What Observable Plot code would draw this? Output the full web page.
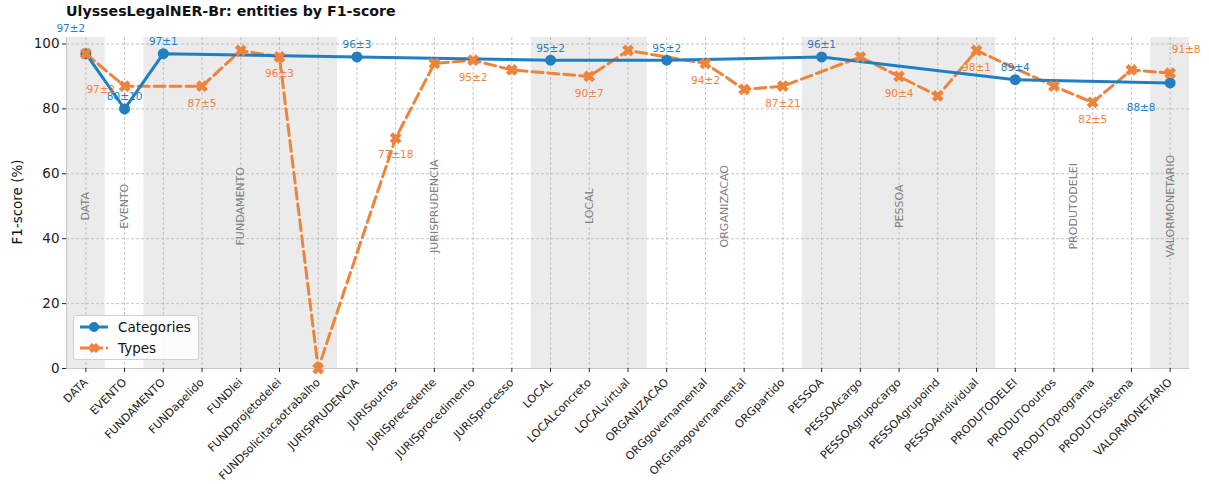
<!DOCTYPE html>
<html>
<head>
<meta charset="utf-8">
<script src="https://cdn.jsdelivr.net/npm/d3@7"></script>
<script src="https://cdn.jsdelivr.net/npm/@observablehq/plot@0.6"></script>
<style>
  body { margin: 0; background: #fff; font-family: "DejaVu Sans", sans-serif; }
  #wrap { position: relative; width: 1209px; height: 484px; }
  #title { position: absolute; left: 66px; top: 3px; font-size: 14.2px; font-weight: bold; color: #111; }
  #ylabel { position: absolute; left: 17px; top: 202px; transform: translate(-50%, -50%) rotate(-90deg); font-size: 13.5px; color: #111; white-space: nowrap; }
  #legend { position: absolute; left: 73px; top: 315px; width: 124px; height: 43px; border: 1px solid #d0d0d0; border-radius: 3px; background: rgba(255,255,255,0.85); font-size: 13.5px; color: #111; }
  #legend .row { position: absolute; left: 6px; height: 20px; display: flex; align-items: center; }
  #legend svg { margin-right: 10px; }
</style>
</head>
<body>
<div id="wrap">
  <div id="chart"></div>
  <div id="title">UlyssesLegalNER-Br: entities by F1-score</div>
  <div id="ylabel">F1-score (%)</div>
  <div id="legend">
    <div class="row" style="top:1px"><svg width="28" height="14"><line x1="0" y1="7" x2="28" y2="7" stroke="#1f7fc1" stroke-width="3"/><circle cx="14" cy="7" r="5" fill="#1f7fc1"/></svg>Categories</div>
    <div class="row" style="top:22px"><svg width="28" height="14"><line x1="0" y1="7" x2="28" y2="7" stroke="#f0833a" stroke-width="3" stroke-dasharray="10,3"/><path d="M10.5,3.5 L17.5,10.5 M17.5,3.5 L10.5,10.5" stroke="#f0833a" stroke-width="4.5"/></svg>Types</div>
  </div>
</div>
<script>
// x-axis entities, in order
const names = ["DATA","EVENTO","FUNDAMENTO","FUNDapelido","FUNDlei","FUNDprojetodelei","FUNDsolicitacaotrabalho","JURISPRUDENCIA","JURISoutros","JURISprecedente","JURISprocedimento","JURISprocesso","LOCAL","LOCALconcreto","LOCALvirtual","ORGANIZACAO","ORGgovernamental","ORGnaogovernamental","ORGpartido","PESSOA","PESSOAcargo","PESSOAgrupocargo","PESSOAgrupoind","PESSOAindividual","PRODUTODELEI","PRODUTOoutros","PRODUTOprograma","PRODUTOsistema","VALORMONETARIO"];

// Categories series
const categories = ["DATA","EVENTO","FUNDAMENTO","JURISPRUDENCIA","LOCAL","ORGANIZACAO","PESSOA","PRODUTODELEI","VALORMONETARIO"];
const categoryF1 = [97, 80, 97, 96, 95, 95, 96, 89, 88];
const categoryLabels = ["97±2","80±10","97±1","96±3","95±2","95±2","96±1","89±4","88±8"];

// Types series
const types = ["DATA","EVENTO","FUNDapelido","FUNDlei","FUNDprojetodelei","FUNDsolicitacaotrabalho","JURISoutros","JURISprecedente","JURISprocedimento","JURISprocesso","LOCALconcreto","LOCALvirtual","ORGgovernamental","ORGnaogovernamental","ORGpartido","PESSOAcargo","PESSOAgrupocargo","PESSOAgrupoind","PESSOAindividual","PRODUTOoutros","PRODUTOprograma","PRODUTOsistema","VALORMONETARIO"];
const typeF1 = [97, 87, 87, 98, 96, 0, 71, 94, 95, 92, 90, 98, 94, 86, 87, 96, 90, 84, 98, 87, 82, 92, 91];
const typeLabels = ["97±2",null,"87±5",null,"96±3",null,"77±18",null,"95±2",null,"90±7",null,"94±2",null,"87±21",null,"90±4",null,"98±1",null,"82±5",null,"91±8"];

const yTicks = [0, 20, 40, 60, 80, 100];

const BLUE = "#1f7fc1", ORANGE = "#f0833a";
const idx = n => names.indexOf(n);

const catData = categories.map((c, i) => ({x: idx(c), y: categoryF1[i], label: categoryLabels[i], name: c}));
const typeData = types.map((t, i) => ({x: idx(t), y: typeF1[i], label: typeLabels[i], name: t}));

// group bands
const groups = categories.map((c, i) => {
  const start = idx(c);
  const end = i < categories.length - 1 ? idx(categories[i + 1]) - 1 : names.length - 1;
  return {name: c, x1: start - 0.5, x2: end + 0.5, mid: (start + end) / 2, shaded: i % 2 === 0};
});

// label offsets (layout only)
const catOffsets = {DATA: [-15, -25], VALORMONETARIO: [-29, 25]};
const typeOffsets = {DATA: [15, 36], VALORMONETARIO: [16, -24]};
const catLab = catData.map(d => ({...d, dx: (catOffsets[d.name] || [0, -12])[0], dy: (catOffsets[d.name] || [0, -12])[1]}));
const typeLab = typeData.filter(d => d.label).map(d => ({...d, dx: (typeOffsets[d.name] || [0, 17])[0], dy: (typeOffsets[d.name] || [0, 17])[1]}));

const labelMarks = [];
for (const d of catLab) labelMarks.push(Plot.text([d], {x: "x", y: "y", text: "label", dx: d.dx, dy: d.dy, fill: BLUE, fontSize: 10.5}));
for (const d of typeLab) labelMarks.push(Plot.text([d], {x: "x", y: "y", text: "label", dx: d.dx, dy: d.dy, fill: ORANGE, fontSize: 10.5}));

const chart = Plot.plot({
  width: 1209,
  height: 484,
  marginLeft: 66,
  marginRight: 20,
  marginTop: 37,
  marginBottom: 116,
  style: {fontFamily: "DejaVu Sans, sans-serif", color: "#222", background: "white"},
  x: {domain: [-0.5, 28.5]},
  y: {domain: [0, 102]},
  marks: [
    Plot.rect(groups.filter(g => g.shaded), {x1: "x1", x2: "x2", y1: 0, y2: 102, fill: "#ebebeb"}),
    Plot.gridX(d3.range(names.length), {stroke: "#b0b0b0", strokeOpacity: 0.9, strokeDasharray: "3,2", strokeWidth: 0.8}),
    Plot.gridY(yTicks, {stroke: "#b0b0b0", strokeOpacity: 0.9, strokeDasharray: "3,2", strokeWidth: 0.8}),
    Plot.text(groups, {x: "mid", y: 50, text: "name", rotate: -90, fill: "#808080", fontSize: 11}),
    Plot.ruleY([0], {stroke: "#c8c8c8", strokeWidth: 1.2}),
    Plot.ruleX([-0.5], {stroke: "#c8c8c8", strokeWidth: 1.2}),
    Plot.axisX({ticks: d3.range(names.length), tickFormat: i => names[i], tickRotate: -45, tickSize: 4, tickPadding: 8, fontSize: 11.2, label: null, stroke: "#222"}),
    Plot.axisY({ticks: yTicks, tickSize: 4, tickPadding: 3, fontSize: 13.5, label: null}),
    Plot.line(typeData, {x: "x", y: "y", stroke: ORANGE, strokeWidth: 3, strokeDasharray: "11,5"}),
    Plot.line(catData, {x: "x", y: "y", stroke: BLUE, strokeWidth: 3}),
    Plot.dot(catData, {x: "x", y: "y", r: 5.5, fill: BLUE}),
    Plot.dot(typeData, {x: "x", y: "y", r: 4, symbol: "times", stroke: ORANGE, strokeWidth: 4.5}),
    ...labelMarks
  ]
});
document.getElementById("chart").appendChild(chart);
</script>
</body>
</html>
